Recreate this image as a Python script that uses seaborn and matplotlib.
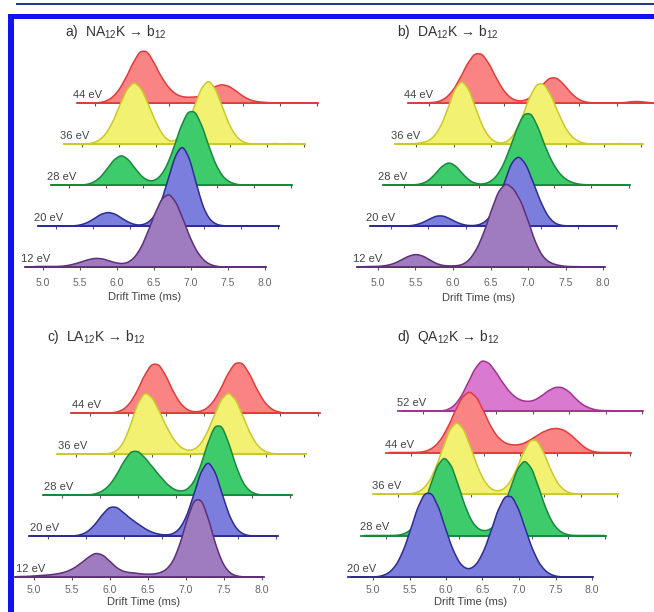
import numpy as np
import matplotlib.pyplot as plt
import seaborn as sns
from matplotlib.patches import Rectangle

# drift time grid (ms) the traces were read on
drift_ms = [4.7, 4.8, 4.9, 5.0, 5.1, 5.2, 5.3, 5.4, 5.5, 5.6, 5.7, 5.8,
            5.9, 6.0, 6.1, 6.2, 6.3, 6.4, 6.5, 6.6, 6.7, 6.8, 6.9, 7.0,
            7.1, 7.2, 7.3, 7.4, 7.5, 7.6, 7.7, 7.8, 7.9, 8.0]
tick_ms = [5.0, 5.5, 6.0, 6.5, 7.0, 7.5, 8.0]

energies_abc = ['12 eV', '20 eV', '28 eV', '36 eV', '44 eV']
energies_d = ['20 eV', '28 eV', '36 eV', '44 eV', '52 eV']

# a) NA12K -> b12
na12k_12 = [0.5, 0.5, 1, 1, 1, 1, 1.5, 3, 5, 7.5, 9, 8.5, 6, 4, 3.5, 7, 16, 32, 51, 67,
            72, 62, 44, 25, 12, 4.5, 1.5, 0.5, 0.5, 0.5, 0.5, 0.5, 0.5, 0.5]
na12k_20 = [0.5, 0.5, 0.5, 0.5, 0.5, 0.5, 1, 3, 7, 12, 14, 12, 7, 3, 1, 2, 7, 20, 43, 68,
            80, 66, 38, 14, 4, 1, 0.5, 0.5, 0.5, 0.5, 0.5, 0.5, 0.5, 0.5]
na12k_28 = [0.5, 0.5, 0.5, 0.5, 0.5, 0.5, 2, 6.3, 15, 25, 30, 25, 15, 6.7, 3.6, 6.3, 16, 34, 56, 72,
            72, 56, 34, 16, 6, 2, 0.5, 0.5, 0.5, 0.5, 0.5, 0.5, 0.5, 0.5]
na12k_36 = [0.5, 0.5, 0.5, 0.5, 0.7, 2.7, 8.2, 19.8, 37, 53.8, 61, 53.8, 37, 19.8, 7, 2, 5.5, 15.7, 34, 54,
            63, 54, 34, 15.7, 5.4, 1.3, 0.5, 0.5, 0.5, 1, 0.5, 1, 0.5, 0.5]
na12k_44 = [0.5, 0.5, 0.5, 0.5, 1.2, 4, 10.8, 22.9, 38, 51, 51, 38, 24, 14, 8, 6, 6, 6.5, 10.5, 16,
            18.5, 17, 12, 6.5, 3, 1.5, 1, 0.5, 0.5, 0.5, 0.5, 0.5, 0.5, 0.5]

# b) DA12K -> b12
da12k_12 = [0.5, 0.8, 1, 1, 1.8, 3.5, 7, 11, 13, 11, 6.5, 2.7, 1.5, 1.5, 2, 6, 16, 32, 54, 74,
            82, 76, 64, 44, 22, 9, 4, 2, 1, 0.8, 0.8, 0.5, 0.5, 0.5]
da12k_20 = [0.5, 0.5, 0.5, 0.5, 0.5, 0.5, 1, 3, 6.7, 10.4, 10.4, 6.7, 3, 1, 0.7, 2, 7, 20, 40, 62,
            69, 60, 41, 22, 8, 2, 0.7, 0.5, 0.5, 0.5, 0.5, 0.5, 0.5, 0.5]
da12k_28 = [0.5, 0.5, 0.5, 0.5, 0.5, 1, 3.1, 9.5, 18.4, 23, 18.4, 9.5, 3.1, 1.1, 1.7, 5.8, 15.6, 33, 54, 70,
            70, 54, 34, 19, 9, 4, 1.5, 0.8, 0.5, 0.5, 0.5, 0.5, 0.5, 0.5]
da12k_36 = [0.5, 0.5, 0.5, 1, 2, 5, 14, 31, 53, 63, 53, 31.6, 13.3, 4, 1, 2, 9, 25, 45, 59,
            59, 46, 28, 13, 5, 1.5, 0.5, 0.5, 0.5, 0.5, 1, 0.5, 0.5, 0.5]
da12k_44 = [0.5, 0.5, 0.5, 0.8, 1.2, 4, 10.8, 22.9, 37.8, 48.5, 48.5, 37.8, 22.9, 10.8, 4, 2, 3.4, 8.8, 17.6, 25,
            25, 17.6, 8.8, 3.1, 1, 0.5, 0.5, 0.5, 0.5, 0.8, 1.8, 2, 1, 0.5]

# c) LA12K -> b12
la12k_12 = [0.5, 1, 1, 1.5, 2, 2.5, 3.5, 5, 8, 13, 19, 24, 22, 15, 8, 5, 4.5, 3.5, 3, 3.5,
            5.5, 12, 28, 54, 76, 76, 54, 27, 9.5, 2.5, 0.8, 0.5, 0.5, 0.5]
la12k_20 = [0.5, 0.5, 0.5, 0.5, 0.5, 0.5, 0.5, 1, 3.6, 10.2, 20.3, 28.7, 28.7, 22, 16, 11, 6, 3, 1.5, 1.5,
            4.7, 15.6, 37, 62, 74, 62, 37, 15.6, 4.7, 1, 0.5, 0.5, 0.5, 0.5]
la12k_28 = [0.5, 0.5, 0.5, 0.5, 0.5, 0.5, 0.5, 0.8, 3, 8, 18, 32, 43, 43, 35, 26, 17, 9, 4.4, 4,
            9, 24, 48, 68, 68, 48, 24, 8.5, 2.1, 0.6, 0.5, 0.5, 0.5, 0.5]
la12k_36 = [0.5, 0.5, 0.5, 0.5, 0.5, 0.5, 0.5, 0.5, 1.8, 8.2, 25, 49, 61, 55, 40, 24, 12, 5, 3.4, 6.6,
            17.5, 35, 53, 61, 53, 35, 17.5, 6.6, 1.9, 0.6, 0.5, 0.5, 0.5, 0.5]
la12k_44 = [0.5, 0.5, 0.5, 0.5, 0.5, 0.5, 0.7, 2.2, 7.6, 19, 35.4, 48.1, 48.1, 35.4, 19, 7.6, 2.2, 1.3, 3.1, 9.3,
            21.4, 37.3, 49.3, 49.3, 37.3, 21.4, 9.3, 3.1, 0.8, 0.5, 0.5, 0.5, 0.5, 0.5]

# d) QA12K -> b12
qa12k_20 = [0.5, 0.5, 0.5, 0.5, 1.1, 3.7, 10.3, 23.7, 44, 66.6, 81.8, 81.8, 66.6, 44, 24, 11.3, 7.3, 11.1, 23, 42.4,
            64.2, 78.9, 78.9, 64.2, 42.4, 22.8, 10, 3.6, 1, 0.5, 0.5, 0.5, 0.5, 0.5]
qa12k_28 = [0.5, 0.5, 0.5, 0.5, 0.5, 0.9, 3.4, 10.4, 25, 46.7, 68, 77, 68, 46.7, 25, 10.6, 5, 5, 10.2, 24,
            44.9, 65.3, 74, 65.3, 44.9, 24, 10, 3.3, 0.8, 0.5, 0.5, 0.5, 0.5, 0.5]
qa12k_36 = [0.5, 0.5, 0.5, 0.5, 0.5, 0.8, 3.1, 9.6, 23.1, 43.1, 62.7, 71, 62.7, 43.1, 23.1, 9.6, 3.6, 3.2, 8.3, 21,
            38.9, 52.9, 52.9, 38.9, 21, 8.3, 2.4, 0.6, 0.5, 0.5, 0.5, 0.5, 0.5, 0.5]
qa12k_44 = [0.5, 0.5, 0.5, 0.5, 0.6, 1.4, 4.6, 11.5, 23.7, 39.7, 54.1, 60, 54.1, 39.7, 24, 14, 9, 7.5, 8, 11,
            15.5, 20, 23, 24, 22, 17, 10, 4, 1, 0.5, 0.5, 0.5, 0.5, 0.5]
qa12k_52 = [0.5, 0.5, 0.5, 0.5, 0.5, 0.5, 0.8, 4, 12, 26, 41, 50, 47, 37, 26, 17, 11.5, 9.5, 10, 14,
            19.5, 23.5, 23.5, 19, 11, 5.5, 2.5, 1, 0.8, 0.8, 0.5, 0.5, 0.5, 0.5]

# fill / outline colours, bottom trace first
fills_abc = ['#9f7cc0', '#7c7ede', '#3ecb6b', '#f3f172', '#fa8484']
edges_abc = ['#5e2f7a', '#2c2c92', '#17893d', '#c9c92a', '#e23b3b']
fills_d = ['#7c7ede', '#3ecb6b', '#f3f172', '#fa8484', '#d979cf']
edges_d = ['#2c2c92', '#17893d', '#c9c92a', '#e23b3b', '#a3338f']

sns.set_theme(style='white')
plt.rcParams['font.family'] = ['Liberation Sans', 'DejaVu Sans']
plt.rcParams['mathtext.fontset'] = 'custom'
plt.rcParams['mathtext.rm'] = 'Liberation Sans'
plt.rcParams['mathtext.it'] = 'Liberation Sans:italic'

W, H = 654, 612
STEP = 0.1        # grid spacing of the read values
BW = 0.055        # smoothing width in ms
fig = plt.figure(figsize=(W / 100, H / 100), dpi=100)

# page frame from the journal figure
fig.add_artist(Rectangle((16 / W, 1 - 5 / H), 1, 2.5 / H, transform=fig.transFigure,
                         color='#27348b', lw=0))
fig.add_artist(Rectangle((8 / W, 1 - 18.5 / H), 1, 5 / H, transform=fig.transFigure,
                         color='#1212f0', lw=0))
fig.add_artist(Rectangle((8 / W, 0), 5.5 / W, 1 - 13.5 / H, transform=fig.transFigure,
                         color='#1212f0', lw=0))

panels = [
    dict(title=r'a)  NA$_{\mathrm{12}}$K → b$_{\mathrm{12}}$', title_xy=(65, 32),
         traces=[na12k_12, na12k_20, na12k_28, na12k_36, na12k_44], labels=energies_abc,
         fills=fills_abc, edges=edges_abc, lab_dx=-4,
         x0=43, ppm=74, xstart=4.76, y0=267, dx=13, dy=41, lab_dy=15, xl_xy=(145, 297)),
    dict(title=r'b)  DA$_{\mathrm{12}}$K → b$_{\mathrm{12}}$', title_xy=(397, 32),
         traces=[da12k_12, da12k_20, da12k_28, da12k_36, da12k_44], labels=energies_abc,
         fills=fills_abc, edges=edges_abc, lab_dx=-4,
         x0=378, ppm=75, xstart=4.72, y0=267, dx=12.75, dy=41, lab_dy=15, xl_xy=(479, 298)),
    dict(title=r'c)  LA$_{\mathrm{12}}$K → b$_{\mathrm{12}}$', title_xy=(47, 337),
         traces=[la12k_12, la12k_20, la12k_28, la12k_36, la12k_44], labels=energies_abc,
         fills=fills_abc, edges=edges_abc, lab_dx=1,
         x0=34, ppm=76, xstart=4.75, y0=577, dx=14, dy=41, lab_dy=12, xl_xy=(144, 602)),
    dict(title=r'd)  QA$_{\mathrm{12}}$K → b$_{\mathrm{12}}$', title_xy=(397, 337),
         traces=[qa12k_20, qa12k_28, qa12k_36, qa12k_44, qa12k_52], labels=energies_d,
         fills=fills_d, edges=edges_d, lab_dx=-1,
         x0=373, ppm=73, xstart=4.66, y0=577, dx=12.5, dy=41.5, lab_dy=12, xl_xy=(471, 602)),
]

x = np.asarray(drift_ms, float)
for p in panels:
    n = len(p['traces'])
    # top trace first so the lower ones are drawn in front
    for k in range(n - 1, -1, -1):
        w = np.asarray(p['traces'][k], float)
        left = p['x0'] + (p['xstart'] - 5.0) * p['ppm'] + k * p['dx']
        width = (8.02 - p['xstart']) * p['ppm']
        base = p['y0'] - k * p['dy']
        ax = fig.add_axes([left / W, 1 - base / H, width / W, 100 / H])
        ax.patch.set_visible(False)

        mean = np.average(x, weights=w)
        sd = np.sqrt(np.average((x - mean) ** 2, weights=w))
        sns.kdeplot(x=x, weights=w, bw_method=BW / sd, cut=0, fill=True, alpha=1,
                    facecolor=p['fills'][k], edgecolor=p['edges'][k], linewidth=1.1, ax=ax)
        # keep every trace on the same intensity scale (1 unit ~ 1 px)
        ax.set_ylim(0, 100 / (1.04 * w.sum() * STEP))
        ax.set_xlim(p['xstart'], 8.02)

        for s in ['top', 'left', 'right']:
            ax.spines[s].set_visible(False)
        ax.spines['bottom'].set_color(p['edges'][k])
        ax.spines['bottom'].set_linewidth(1.3)
        ax.set_yticks([])
        ax.set_ylabel('')
        ax.set_xlabel('')
        ax.set_xticks(tick_ms)
        ax.set_xticklabels([f'{t:.1f}' for t in tick_ms])
        ax.tick_params(axis='x', bottom=True, length=2.5, width=0.8, color='#555555',
                       direction='out', pad=p['lab_dy'] * 0.72 - 5.5,
                       labelsize=7.5, labelcolor='#666666', labelbottom=(k == 0))
        ax.annotate(p['labels'][k], xy=(0, 0), xycoords='axes fraction',
                    xytext=(p['lab_dx'] * 0.72, 3 * 0.72), textcoords='offset points',
                    ha='left', va='bottom', fontsize=8, color='#444444')

    fig.text(p['title_xy'][0] / W, 1 - p['title_xy'][1] / H, p['title'],
             ha='left', va='center', fontsize=10, color='#333333')
    fig.text(p['xl_xy'][0] / W, 1 - p['xl_xy'][1] / H, 'Drift Time (ms)',
             ha='center', va='center', fontsize=8, color='#444444')

fig.savefig('out.png', dpi=100)
